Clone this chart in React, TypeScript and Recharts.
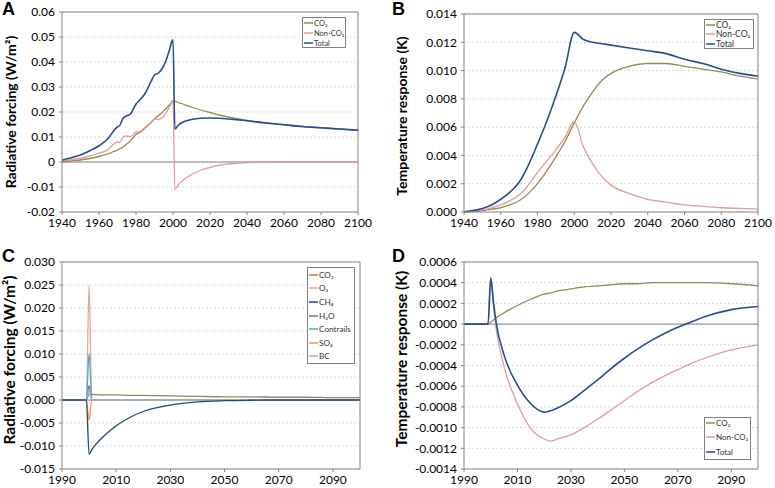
import { LineChart, Line, XAxis, YAxis, CartesianGrid, ReferenceLine, Legend } from 'recharts'

const FONT = 'Lato, "Open Sans", sans-serif'
const AXIS = '#868686'
const OLIVE = '#948A54'
const PINK = '#E39B99'
const NAVY = '#254F8C'

// panel A - radiative forcing, 1940-2100
const yearsA = [1940, 1945, 1950, 1955, 1960, 1965, 1968, 1970, 1971, 1973, 1975, 1977, 1980, 1982, 1985, 1988, 1990, 1992, 1994, 1996, 1998, 2000, 2001, 2003, 2005, 2010, 2015, 2020, 2025, 2030, 2040, 2050, 2060, 2070, 2080, 2090, 2100]
const co2A = [0, 0.0004, 0.0008, 0.0014, 0.0022, 0.0033, 0.0042, 0.0048, 0.0052, 0.006, 0.0072, 0.0085, 0.011, 0.0118, 0.0138, 0.0158, 0.0172, 0.0185, 0.0198, 0.0212, 0.0228, 0.0245, 0.0243, 0.0238, 0.0233, 0.022, 0.0208, 0.0198, 0.0188, 0.018, 0.0166, 0.0157, 0.0149, 0.0142, 0.0137, 0.0132, 0.0127]
const nonCo2A = [0.0005, 0.0009, 0.0015, 0.0024, 0.0035, 0.005, 0.0072, 0.008, 0.0077, 0.0101, 0.0104, 0.0101, 0.012, 0.0121, 0.0135, 0.0157, 0.0173, 0.017, 0.0175, 0.0195, 0.0218, 0.0245, -0.0111, -0.009, -0.0075, -0.005, -0.0033, -0.0022, -0.0013, -0.0008, -0.0002, -0.0001, 0, 0, 0, 0, 0]
const totalA = [0.0008, 0.0017, 0.0028, 0.0045, 0.0065, 0.0095, 0.0125, 0.0141, 0.0144, 0.0175, 0.0185, 0.0192, 0.0232, 0.0248, 0.0275, 0.032, 0.0348, 0.0355, 0.0372, 0.0401, 0.0446, 0.049, 0.0132, 0.0148, 0.0158, 0.017, 0.0175, 0.0176, 0.0175, 0.0172, 0.0165, 0.0156, 0.0149, 0.0142, 0.0137, 0.0132, 0.0127]

// panel B - temperature response, 1940-2100
const yearsB = [1940, 1945, 1950, 1955, 1960, 1965, 1970, 1975, 1980, 1985, 1990, 1995, 2000, 2005, 2010, 2015, 2020, 2030, 2040, 2050, 2060, 2070, 2080, 2090, 2100]
const co2B = [0, 0.00002, 0.0001, 0.0002, 0.0003, 0.0005, 0.0008, 0.0013, 0.002, 0.0029, 0.0039, 0.005, 0.0063, 0.0075, 0.0085, 0.0093, 0.0098, 0.0103, 0.0105, 0.0105, 0.0103, 0.0101, 0.0099, 0.0096, 0.0094]
const nonCo2B = [0, 0.00005, 0.00015, 0.0003, 0.0005, 0.0008, 0.0012, 0.0019, 0.0028, 0.0036, 0.0044, 0.0053, 0.0064, 0.0046, 0.0034, 0.0025, 0.0019, 0.0013, 0.0009, 0.0007, 0.0005, 0.0004, 0.0003, 0.00025, 0.0002]
const totalB = [0.00002, 0.0001, 0.00025, 0.0005, 0.0009, 0.0014, 0.0021, 0.0033, 0.0048, 0.0064, 0.0082, 0.0102, 0.0127, 0.0122, 0.012, 0.0119, 0.0118, 0.0116, 0.0114, 0.0112, 0.0108, 0.0105, 0.0101, 0.0098, 0.0096]

// panel C - forcing per species, pulse in 2000
const yearsC = [1990, 1999, 2000, 2001, 2005, 2010, 2015, 2020, 2030, 2040, 2050, 2060, 2070, 2080, 2090, 2100]
const co2C = [0, 0, 0.0012, 0.0012, 0.0011, 0.0011, 0.001, 0.001, 0.0009, 0.0008, 0.0007, 0.0007, 0.0006, 0.0006, 0.0005, 0.0005]
const o3C = [0, 0, 0.025, 0, 0, 0, 0, 0, 0, 0, 0, 0, 0, 0, 0, 0]
const ch4C = [0, 0, -0.0118, -0.0108, -0.0081, -0.0056, -0.0038, -0.0025, -0.0011, -0.0004, -0.00015, -0.00005, 0, 0, 0, 0]
const h2oC = [0, 0, 0.0031, 0, 0, 0, 0, 0, 0, 0, 0, 0, 0, 0, 0, 0]
const contrailsC = [0, 0, 0.0101, 0, 0, 0, 0, 0, 0, 0, 0, 0, 0, 0, 0, 0]
const so4C = [0, 0, -0.0044, 0, 0, 0, 0, 0, 0, 0, 0, 0, 0, 0, 0, 0]
const bcC = [0, 0, 0.0022, 0, 0, 0, 0, 0, 0, 0, 0, 0, 0, 0, 0, 0]

// panel D - temperature response to the pulse
const yearsD = [1990, 1999, 2000, 2001, 2002, 2005, 2010, 2015, 2020, 2022, 2025, 2030, 2035, 2040, 2045, 2050, 2055, 2060, 2065, 2070, 2075, 2080, 2090, 2100]
const co2D = [0, 0, 0.00002, 0.00004, 0.00006, 0.00011, 0.00018, 0.00024, 0.00029, 0.0003, 0.00032, 0.00034, 0.00036, 0.00037, 0.00038, 0.00039, 0.00039, 0.0004, 0.0004, 0.0004, 0.0004, 0.0004, 0.00039, 0.00037]
const nonCo2D = [0, 0, 0.00043, 0.00018, -0.00004, -0.00041, -0.00077, -0.00101, -0.00111, -0.00113, -0.00111, -0.00107, -0.001, -0.00092, -0.00083, -0.00074, -0.00065, -0.00057, -0.0005, -0.00044, -0.00038, -0.00033, -0.00025, -0.0002]
const totalD = [0, 0, 0.00045, 0.00022, 0.00002, -0.0003, -0.00059, -0.00077, -0.00085, -0.00084, -0.00081, -0.00074, -0.00064, -0.00054, -0.00043, -0.00033, -0.00024, -0.00016, -0.00009, -0.00003, 0.00002, 0.00007, 0.00014, 0.00017]

const ticksLong = [1940, 1960, 1980, 2000, 2020, 2040, 2060, 2080, 2100]
const ticksPulse = [1990, 2010, 2030, 2050, 2070, 2090]
const yTicksA = [-0.02, -0.01, 0, 0.01, 0.02, 0.03, 0.04, 0.05, 0.06]
const yTicksB = [0, 0.002, 0.004, 0.006, 0.008, 0.01, 0.012, 0.014]
const yTicksC = [-0.015, -0.01, -0.005, 0, 0.005, 0.01, 0.015, 0.02, 0.025, 0.03]
const yTicksD = [-0.0014, -0.0012, -0.001, -0.0008, -0.0006, -0.0004, -0.0002, 0, 0.0002, 0.0004, 0.0006]

const threeSeries = (co2: number[], non: number[], tot: number[]) => [
  { key: 'co2', name: 'CO₂', color: OLIVE, values: co2 },
  { key: 'non', name: 'Non-CO₂', color: PINK, values: non },
  { key: 'tot', name: 'Total', color: NAVY, values: tot, width: 1.6 },
]

// CH4 drawn last so it sits on top of the zero line, legend keeps the original order
const speciesC = [
  { key: 'co2', name: 'CO₂', color: OLIVE, values: co2C },
  { key: 'o3', name: 'O₃', color: '#E6A3A1', values: o3C },
  { key: 'h2o', name: 'H₂O', color: '#8064A2', values: h2oC },
  { key: 'con', name: 'Contrails', color: '#4BACC6', values: contrailsC },
  { key: 'so4', name: 'SO₄', color: '#F79646', values: so4C },
  { key: 'bc', name: 'BC', color: '#95B3D7', values: bcC },
  { key: 'ch4', name: 'CH₄', color: '#1F497D', values: ch4C },
]
const orderC = ['CO₂', 'O₃', 'CH₄', 'H₂O', 'Contrails', 'SO₄', 'BC']
const order3 = ['CO₂', 'Non-CO₂', 'Total']

function BoxLegend({ series, order, fontSize, rowH, shift = 0 }: any) {
  const items = order.map((n: string) => series.find((s: any) => s.name === n))
  return (
    <div style={{ boxSizing: 'border-box', width: '100%', height: '100%', border: '1px solid #7f7f7f', background: '#fff', padding: '0 1px', fontFamily: FONT, fontSize, color: '#333' }}>
      <div style={{ marginTop: shift }}>
        {items.map((s: any) => (
          <div key={s.name} style={{ display: 'flex', alignItems: 'center', whiteSpace: 'nowrap', height: rowH }}>
            <svg width={9} height={4} style={{ flex: 'none', marginRight: 1 }}>
              <line x1={0} y1={2} x2={9} y2={2} stroke={s.color} strokeWidth={1.5} />
            </svg>
            <span>{s.name}</span>
          </div>
        ))}
      </div>
    </div>
  )
}

function Panel(p: any) {
  const data = p.years.map((y: number, i: number) => {
    const row: any = { year: y }
    p.series.forEach((s: any) => { row[s.key] = s.values[i] })
    return row
  })
  const tick = { fontSize: 12, fill: '#000', fontFamily: FONT }
  const lg = p.legend
  return (
    <div style={{ position: 'absolute', left: p.left, top: p.top }}>
      <LineChart width={p.width} height={p.height} data={data} margin={p.margin}>
        <CartesianGrid vertical={false} stroke="#d9d9d9" strokeDasharray="2 2" />
        <XAxis dataKey="year" type="number" domain={p.xDomain} ticks={p.xTicks} interval={0}
          tick={tick} tickSize={3} tickMargin={p.xGap} height={p.xHeight}
          axisLine={{ stroke: AXIS }} tickLine={{ stroke: AXIS }} />
        <YAxis type="number" domain={p.yDomain} ticks={p.yTicks} interval={0} width={p.yWidth}
          tick={tick} tickSize={3} tickMargin={4} tickFormatter={p.yFormat}
          axisLine={{ stroke: AXIS }} tickLine={{ stroke: AXIS }}
          label={{
            content: () => (
              <text x={p.labelX} y={p.labelY} transform={`rotate(-90 ${p.labelX} ${p.labelY})`}
                textAnchor="middle" dominantBaseline="central" fontFamily={FONT}
                fontWeight={700} fontSize={p.labelSize} fill="#000">{p.label}</text>
            ),
          }} />
        <ReferenceLine y={p.yDomain[1]} stroke={AXIS} />
        <ReferenceLine x={p.xDomain[1]} stroke={AXIS} />
        {p.zeroLine && <ReferenceLine y={0} stroke={AXIS} />}
        {p.series.map((s: any) => (
          <Line key={s.key} type="monotone" dataKey={s.key} name={s.name} stroke={s.color}
            strokeWidth={s.width || 1.3} dot={false} activeDot={false} isAnimationActive={false} />
        ))}
        <Legend layout="vertical" align="center" verticalAlign="middle"
          wrapperStyle={{ left: lg.left, top: lg.top, width: lg.width, height: lg.height }}
          content={() => <BoxLegend series={p.series} order={p.order} fontSize={lg.fontSize} rowH={lg.rowH} shift={lg.shift} />} />
      </LineChart>
    </div>
  )
}

const fmt = (d: number) => (v: number) => v.toFixed(d)

export default function App() {
  return (
    <div style={{ position: 'absolute', left: 0, top: 0, width: 775, height: 488, background: '#fff', overflow: 'hidden' }}>
      <Panel left={0} top={0} width={390} height={240} margin={{ top: 12, right: 32, bottom: 4, left: 0 }}
        years={yearsA} series={threeSeries(co2A, nonCo2A, totalA)} order={order3}
        xDomain={[1940, 2100]} xTicks={ticksLong} xHeight={24} xGap={3}
        yDomain={[-0.02, 0.06]} yTicks={yTicksA} yWidth={62} yFormat={(v: number) => (v === 0 ? '0' : v.toFixed(2))}
        zeroLine label="Radiative forcing (W/m²)" labelX={10} labelY={112} labelSize={14}
        legend={{ left: 302, top: 17, width: 44, height: 31, fontSize: 7.5, rowH: 10, shift: 0 }} />
      <Panel left={390} top={0} width={385} height={240} margin={{ top: 14, right: 17, bottom: 4, left: 0 }}
        years={yearsB} series={threeSeries(co2B, nonCo2B, totalB)} order={order3}
        xDomain={[1940, 2100]} xTicks={ticksLong} xHeight={24} xGap={3}
        yDomain={[0, 0.014]} yTicks={yTicksB} yWidth={74} yFormat={fmt(3)}
        label="Temperature response (K)" labelX={11.5} labelY={116} labelSize={14}
        legend={{ left: 314, top: 19, width: 50, height: 30, fontSize: 8.5, rowH: 9.5, shift: 0 }} />
      <Panel left={0} top={240} width={390} height={248} margin={{ top: 22, right: 30, bottom: 0, left: 0 }}
        years={yearsC} series={speciesC} order={orderC}
        xDomain={[1990, 2100]} xTicks={ticksPulse} xHeight={19} xGap={3}
        yDomain={[-0.015, 0.03]} yTicks={yTicksC} yWidth={62} yFormat={fmt(3)}
        zeroLine label="Radiative forcing (W/m²)" labelX={9} labelY={120} labelSize={15.5}
        legend={{ left: 307, top: 27, width: 48, height: 97, fontSize: 8.2, rowH: 13.6, shift: 0 }} />
      <Panel left={390} top={240} width={385} height={248} margin={{ top: 22, right: 17, bottom: 0, left: 0 }}
        years={yearsD} series={threeSeries(co2D, nonCo2D, totalD)} order={order3}
        xDomain={[1990, 2100]} xTicks={ticksPulse} xHeight={19} xGap={3}
        yDomain={[-0.0014, 0.0006]} yTicks={yTicksD} yWidth={74} yFormat={fmt(4)}
        zeroLine label="Temperature response (K)" labelX={11} labelY={119} labelSize={15.5}
        legend={{ left: 314, top: 177, width: 47, height: 43, fontSize: 8, rowH: 14.3, shift: -2 }} />
      <svg width={775} height={488} style={{ position: 'absolute', left: 0, top: 0, pointerEvents: 'none' }}>
        <g fontFamily='"Liberation Sans", Arial, sans-serif' fontWeight={700} fontSize={18} fill="#000">
          <text x={2} y={15}>A</text>
          <text x={392} y={15}>B</text>
          <text x={2} y={262}>C</text>
          <text x={392} y={262}>D</text>
        </g>
      </svg>
    </div>
  )
}
